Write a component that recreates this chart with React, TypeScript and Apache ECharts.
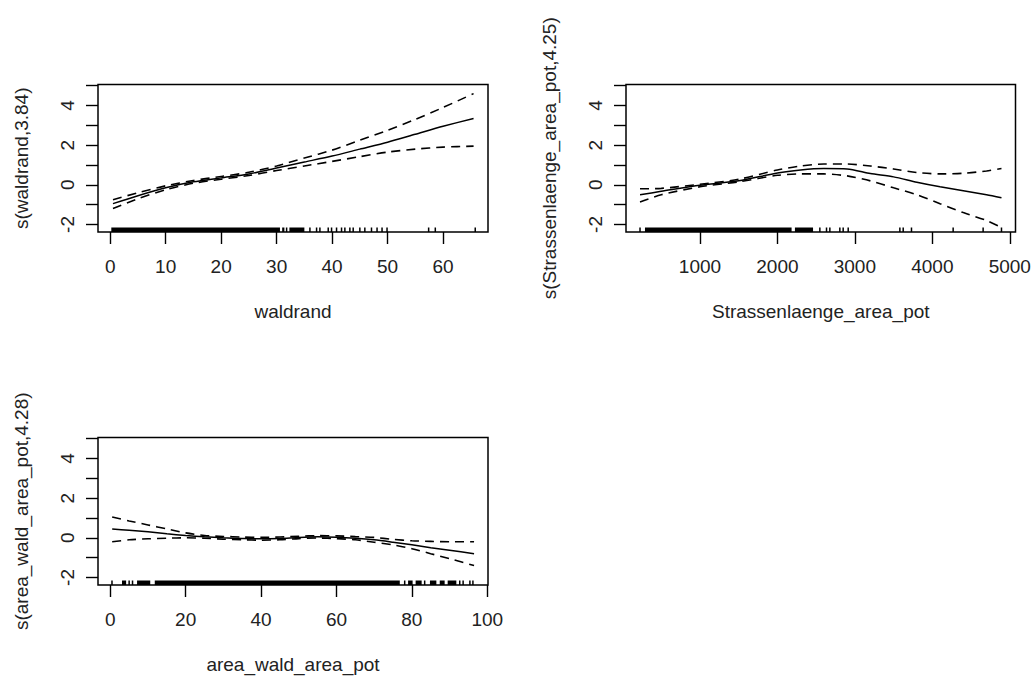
import React, { useEffect, useRef } from "react";
import * as echarts from "echarts";

// ---------- Panel 1: waldrand ----------
const WALD_X = [0.5, 5, 10, 15, 20, 25, 30, 35, 40, 45, 50, 55, 60, 65.5];
const WALD_FIT = [-0.95, -0.55, -0.15, 0.15, 0.35, 0.55, 0.85, 1.15, 1.45, 1.8, 2.15, 2.55, 2.95, 3.35];
const WALD_UPPER = [-0.75, -0.4, -0.05, 0.22, 0.42, 0.63, 0.95, 1.35, 1.75, 2.25, 2.75, 3.3, 3.9, 4.6];
const WALD_LOWER = [-1.2, -0.7, -0.25, 0.08, 0.28, 0.47, 0.72, 0.95, 1.18, 1.42, 1.65, 1.8, 1.9, 1.95];
const WALD_RUG_BANDS = [[0.2, 30.6], [31.0, 31.4], [32.3, 35.0]];
const WALD_RUG_TICKS = [31.8, 36.0, 37.2, 37.8, 39.3, 39.9, 40.8, 41.7, 42.3, 43.2, 43.8, 45.0, 45.9, 47.1, 48.1, 49.0, 49.9, 57.4, 58.6, 65.8];
const WALD_XTICKS = [0, 10, 20, 30, 40, 50, 60];

// ---------- Panel 2: Strassenlaenge_area_pot ----------
const STR_X = [226, 500, 1000, 1500, 2000, 2300, 2600, 2900, 3200, 3500, 3800, 4100, 4400, 4700, 4893];
const STR_FIT = [-0.5, -0.33, -0.02, 0.2, 0.6, 0.75, 0.82, 0.8, 0.57, 0.4, 0.13, -0.1, -0.3, -0.5, -0.65];
const STR_UPPER = [-0.2, -0.18, 0.03, 0.28, 0.75, 0.95, 1.05, 1.05, 0.95, 0.8, 0.62, 0.55, 0.58, 0.7, 0.82];
const STR_LOWER = [-0.87, -0.5, -0.1, 0.15, 0.48, 0.55, 0.55, 0.45, 0.2, -0.15, -0.5, -0.95, -1.4, -1.8, -2.15];
const STR_RUG_BANDS = [[290, 2183], [2226, 2460]];
const STR_RUG_TICKS = [226, 2548, 2634, 2677, 2806, 2849, 2914, 3581, 3624, 3731, 4269, 4656, 4893];
const STR_XTICKS = [1000, 2000, 3000, 4000, 5000];

// ---------- Panel 3: area_wald_area_pot ----------
const AREA_X = [0.5, 5, 10, 15, 20, 25, 30, 35, 40, 45, 50, 55, 60, 65, 70, 75, 80, 85, 90, 96.5];
const AREA_FIT = [0.45, 0.38, 0.3, 0.2, 0.12, 0.05, 0.0, -0.03, -0.05, -0.03, 0.02, 0.05, 0.03, -0.02, -0.1, -0.22, -0.35, -0.5, -0.63, -0.8];
const AREA_UPPER = [1.05, 0.85, 0.65, 0.45, 0.25, 0.12, 0.07, 0.04, 0.02, 0.04, 0.08, 0.11, 0.1, 0.06, 0.02, -0.08, -0.15, -0.18, -0.2, -0.2];
const AREA_LOWER = [-0.2, -0.1, -0.05, -0.02, 0.0, -0.02, -0.07, -0.1, -0.12, -0.1, -0.04, -0.01, -0.04, -0.1, -0.22, -0.36, -0.55, -0.8, -1.05, -1.4];
const AREA_RUG_BANDS = [[3.1, 4.2], [7.1, 10.6], [11.8, 76.8], [79.0, 80.2], [81.0, 82.6], [84.8, 86.5], [87.4, 88.7], [89.5, 91.8]];
const AREA_RUG_TICKS = [0.45, 5.0, 5.9, 78.1, 83.4, 92.7, 93.6, 95.4, 96.2];
const AREA_XTICKS = [0, 20, 40, 60, 80, 100];

// ---------- shared y axis ----------
const Y_TICKS = [-2, -1, 0, 1, 2, 3, 4, 5];
const Y_LABELS = [-2, 0, 2, 4];
const Y_MIN = -2.38;
const Y_MAX = 5.06;

const FONT = "'Liberation Sans', Arial, sans-serif";
const TXT = "#222";
const FS = 19;

type Panel = {
  x: number[]; fit: number[]; upper: number[]; lower: number[];
  bands: number[][]; ticks: number[]; xticks: number[];
  xmin: number; xmax: number; xname: string; yname: string;
  grid: { left: number; top: number; width: number; height: number };
};

const PANELS: Panel[] = [
  {
    x: WALD_X, fit: WALD_FIT, upper: WALD_UPPER, lower: WALD_LOWER,
    bands: WALD_RUG_BANDS, ticks: WALD_RUG_TICKS, xticks: WALD_XTICKS,
    xmin: -2.2, xmax: 68.1, xname: "waldrand", yname: "s(waldrand,3.84)",
    grid: { left: 98, top: 84.5, width: 390, height: 147.5 },
  },
  {
    x: STR_X, fit: STR_FIT, upper: STR_UPPER, lower: STR_LOWER,
    bands: STR_RUG_BANDS, ticks: STR_RUG_TICKS, xticks: STR_XTICKS,
    xmin: 45, xmax: 5074, xname: "Strassenlaenge_area_pot", yname: "s(Strassenlaenge_area_pot,4.25)",
    grid: { left: 626, top: 84.5, width: 389.5, height: 147.5 },
  },
  {
    x: AREA_X, fit: AREA_FIT, upper: AREA_UPPER, lower: AREA_LOWER,
    bands: AREA_RUG_BANDS, ticks: AREA_RUG_TICKS, xticks: AREA_XTICKS,
    xmin: -3.26, xmax: 100.2, xname: "area_wald_area_pot", yname: "s(area_wald_area_pot,4.28)",
    grid: { left: 98, top: 437.5, width: 390, height: 147.5 },
  },
];

function buildOption() {
  const grids: any[] = [];
  const xAxes: any[] = [];
  const yAxes: any[] = [];
  const series: any[] = [];
  PANELS.forEach((p, i) => {
    grids.push({
      ...p.grid, show: true, borderColor: "#000", borderWidth: 1.5,
      backgroundColor: "transparent", containLabel: false, outerBoundsMode: "none",
    });
    xAxes.push({
      type: "value", gridIndex: i, min: p.xmin, max: p.xmax, position: "bottom",
      axisLine: { show: false, onZero: false },
      splitLine: { show: false },
      axisTick: { show: true, length: 12, customValues: p.xticks, lineStyle: { color: "#000", width: 1.4 } },
      axisLabel: {
        show: true, customValues: p.xticks, margin: 25, fontSize: FS, color: TXT, fontFamily: FONT,
        formatter: (v: number) => String(v), showMinLabel: true, showMaxLabel: true, hideOverlap: false,
      },
      name: p.xname, nameLocation: "middle", nameGap: 70,
      nameTextStyle: { fontSize: FS, color: TXT, fontFamily: FONT },
    });
    yAxes.push({
      type: "value", gridIndex: i, min: Y_MIN, max: Y_MAX, position: "left",
      axisLine: { show: false, onZero: false },
      splitLine: { show: false },
      axisTick: { show: true, length: 12, customValues: Y_TICKS, lineStyle: { color: "#000", width: 1.4 } },
      axisLabel: {
        show: true, customValues: Y_LABELS, rotate: 90, margin: 21, fontSize: FS, color: TXT, fontFamily: FONT,
        formatter: (v: number) => String(v), hideOverlap: false,
      },
      name: p.yname, nameLocation: "middle", nameGap: 67, nameRotate: 90,
      nameTextStyle: { fontSize: FS, color: TXT, fontFamily: FONT },
    });
    const mk = (ys: number[]) => p.x.map((x, k) => [x, ys[k]]);
    series.push({
      type: "line", xAxisIndex: i, yAxisIndex: i, data: mk(p.fit), showSymbol: false, smooth: 0.25,
      lineStyle: { color: "#000", width: 1.5 }, silent: true,
    });
    series.push({
      type: "line", xAxisIndex: i, yAxisIndex: i, data: mk(p.upper), showSymbol: false, smooth: 0.25,
      lineStyle: { color: "#000", width: 1.6, type: [9, 6] }, silent: true,
    });
    series.push({
      type: "line", xAxisIndex: i, yAxisIndex: i, data: mk(p.lower), showSymbol: false, smooth: 0.25,
      lineStyle: { color: "#000", width: 1.6, type: [9, 6] }, silent: true,
    });
    const rugData = [...p.bands.map((b) => [b[0], b[1]]), ...p.ticks.map((t) => [t, t])];
    series.push({
      type: "custom", xAxisIndex: i, yAxisIndex: i, data: rugData, silent: true,
      encode: { x: [0, 1] },
      renderItem: (params: any, api: any) => {
        const a = api.coord([api.value(0), Y_MIN]);
        const b = api.coord([api.value(1), Y_MIN]);
        let w = b[0] - a[0];
        let x0 = a[0];
        if (w < 1.5) { x0 = a[0] - 0.75; w = 1.5; }
        return {
          type: "rect",
          shape: { x: x0, y: a[1] - 4.5, width: w, height: 4.5 },
          style: { fill: "#000" },
        };
      },
    });
  });
  return {
    animation: false,
    backgroundColor: "#fff",
    grid: grids,
    xAxis: xAxes,
    yAxis: yAxes,
    series,
  };
}

export default function App() {
  const ref = useRef<HTMLDivElement>(null);
  useEffect(() => {
    if (!ref.current) return;
    const chart = echarts.init(ref.current, null, { renderer: "svg" });
    chart.setOption(buildOption() as any);
    return () => chart.dispose();
  }, []);
  return (
    <div
      ref={ref}
      style={{ position: "absolute", left: 0, top: 0, width: 1034, height: 677, background: "#fff" }}
    />
  );
}
